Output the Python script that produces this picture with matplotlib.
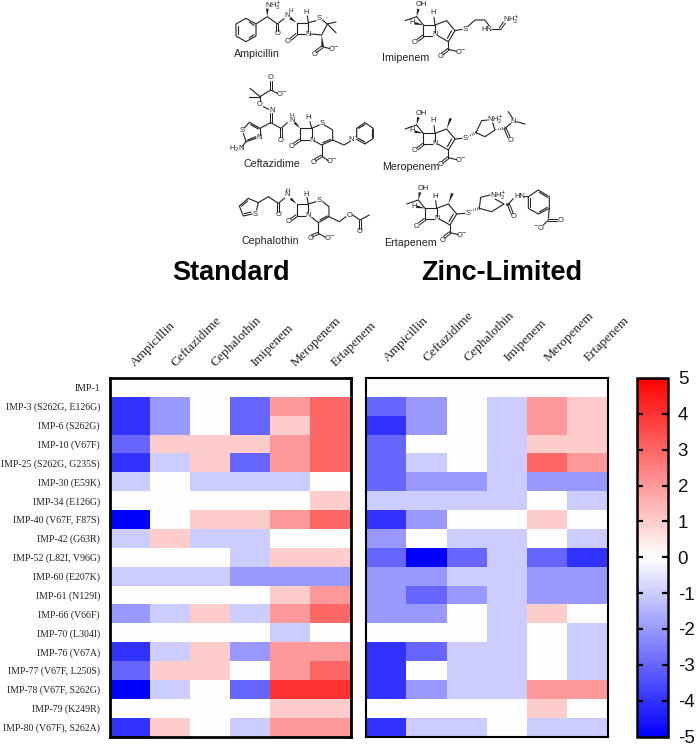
import numpy as np
import matplotlib
matplotlib.use("Agg")
import matplotlib.pyplot as plt
from matplotlib.patches import Polygon

drugs = ["Ampicillin", "Ceftazidime", "Cephalothin", "Imipenem", "Meropenem", "Ertapenem"]
variants = ["IMP-1", "IMP-3 (S262G, E126G)", "IMP-6 (S262G)", "IMP-10 (V67F)", "IMP-25 (S262G, G235S)",
            "IMP-30 (E59K)", "IMP-34 (E126G)", "IMP-40 (V67F, F87S)", "IMP-42 (G63R)", "IMP-52 (L82I, V96G)",
            "IMP-60 (E207K)", "IMP-61 (N129I)", "IMP-66 (V66F)", "IMP-70 (L304I)", "IMP-76 (V67A)",
            "IMP-77 (V67F, L250S)", "IMP-78 (V67F, S262G)", "IMP-79 (K249R)", "IMP-80 (V67F), S262A)"]
standard = [[0, 0, 0, 0, 0, 0],
            [-4, -2, 0, -3, 2, 3],
            [-4, -2, 0, -3, 1, 3],
            [-3, 1, 1, 1, 2, 3],
            [-4, -1, 1, -3, 2, 3],
            [-1, 0, -1, -1, -1, 0],
            [0, 0, 0, 0, 0, 1],
            [-5, 0, 1, 1, 2, 3],
            [-1, 1, -1, -1, 0, 0],
            [0, 0, 0, -1, 1, 1],
            [-1, -1, -1, -2, -2, -2],
            [0, 0, 0, 0, 1, 2],
            [-2, -1, 1, -1, 2, 3],
            [0, 0, 0, 0, -1, 0],
            [-4, -1, 1, -2, 2, 2],
            [-3, 1, 1, 0, 2, 3],
            [-5, -1, 0, -3, 4, 4],
            [0, 0, 0, 0, 1, 1],
            [-4, 1, 0, -1, 2, 2]]
zinc = [[0, 0, 0, 0, 0, 0],
        [-3, -2, 0, -1, 2, 1],
        [-4, -2, 0, -1, 2, 1],
        [-3, 0, 0, -1, 1, 1],
        [-3, -1, 0, -1, 3, 2],
        [-3, -2, -2, -1, -2, -2],
        [-1, -1, -1, -1, 0, -1],
        [-4, -2, 0, 0, 1, 0],
        [-2, 0, -1, -1, 0, -1],
        [-3, -5, -3, -1, -3, -4],
        [-2, -2, -1, -1, -2, -2],
        [-2, -3, -2, -1, -2, -2],
        [-2, -2, 0, -1, 1, 0],
        [0, 0, 0, -1, 0, -1],
        [-4, -3, -1, -1, 0, -1],
        [-4, 0, -1, -1, 0, -1],
        [-4, -2, -1, -1, 2, 2],
        [0, 0, 0, 0, 1, 0],
        [-4, -1, -1, 0, -1, -1]]
cbar_ticks = [5, 4, 3, 2, 1, 0, -1, -2, -3, -4, -5]
panel_titles = ["Standard", "Zinc-Limited"]

W, H = 696, 745
SERIF = "Liberation Serif"
SANS = "Liberation Sans"
fig = plt.figure(figsize=(W / 100, H / 100), dpi=100)


def add_ax(x0, y0, x1, y1):
    return fig.add_axes([x0 / W, 1 - y1 / H, (x1 - x0) / W, (y1 - y0) / H])


def heat(ax, values, lw, show_rows, label_shift, label_rise):
    arr = np.array(values)
    mesh = ax.pcolormesh(np.arange(arr.shape[1] + 1), np.arange(arr.shape[0] + 1), arr,
                         cmap="bwr", vmin=-5, vmax=5, linewidth=0, rasterized=True)
    ax.invert_yaxis()
    ax.tick_params(length=0, pad=7.2)
    ax.set_xticks([])
    for i, d in enumerate(drugs):
        ax.annotate(d, xy=(i + 0.5, 1), xycoords=("data", "axes fraction"),
                    xytext=(label_shift, label_rise), textcoords="offset pixels",
                    rotation=45, ha="left", va="baseline", rotation_mode="anchor",
                    family=SERIF, fontsize=9.6, color="#222222")
    if show_rows:
        ax.set_yticks(np.arange(len(variants)) + 0.5)
        ax.set_yticklabels(variants, family=SERIF, fontsize=7.15, color="#222222")
    else:
        ax.set_yticks([])
    for s in ax.spines.values():
        s.set_linewidth(lw)
    return mesh


ax1 = add_ax(110, 378, 350.5, 736.5)
mesh = heat(ax1, standard, 2.0, True, 5, 11)
ax2 = add_ax(366, 378, 607.5, 736.5)
heat(ax2, zinc, 1.5, False, 1.5, 16)

cax = add_ax(637, 378, 668, 736.5)
cb = fig.colorbar(mesh, cax=cax)
cb.set_ticks(cbar_ticks)
cb.set_ticklabels([str(t) for t in cbar_ticks], family=SANS, fontsize=13.5, color="#111111")
cb.solids.set_rasterized(True)
cb.outline.set_linewidth(1.8)
cax.tick_params(axis="y", which="major", direction="in", length=4, width=1.6, left=True, right=True, pad=7)
for t in cax.yaxis.get_major_ticks():
    if t.get_loc() in (5, -5):
        t.tick1line.set_visible(False)
        t.tick2line.set_visible(False)

# Overlay for headings and the chemical structure drawings (pixel space of the page)
ov = fig.add_axes([0, 0, 1, 1], zorder=5)
ov.set_xlim(0, W)
ov.set_ylim(H, 0)
ov.axis("off")
ov.patch.set_alpha(0)

ov.text(231, 273, panel_titles[0], family=SANS, weight="bold", fontsize=19.5, ha="center", va="center", color="black")
ov.text(502, 273, panel_titles[1], family=SANS, weight="bold", fontsize=19.5, ha="center", va="center", color="black")


def P(p):
    return 180 + p[0] / 3, p[1] / 3


LW = 0.8
INK = "#222222"


def chain(*pts):
    xy = np.array([P(p) for p in pts])
    ov.plot(xy[:, 0], xy[:, 1], color=INK, lw=LW, solid_capstyle="round", solid_joinstyle="round")


def dbl(a, b, off=1.1):
    a, b = np.array(P(a)), np.array(P(b))
    d = b - a
    n = np.array([-d[1], d[0]]) / np.hypot(*d) * off
    for s in (-1, 1):
        ov.plot([a[0] + s * n[0], b[0] + s * n[0]], [a[1] + s * n[1], b[1] + s * n[1]],
                color=INK, lw=LW * 0.9, solid_capstyle="round")


def wedge(a, b, w=1.4):
    a, b = np.array(P(a)), np.array(P(b))
    d = b - a
    n = np.array([-d[1], d[0]]) / np.hypot(*d) * w
    ov.add_patch(Polygon([a, b + n, b - n], closed=True, fc=INK, ec="none"))


def hashed(a, b, k=5, w=1.4):
    a, b = np.array(P(a)), np.array(P(b))
    d = b - a
    n = np.array([-d[1], d[0]]) / np.hypot(*d)
    for f in np.linspace(0.1, 1, k):
        c = a + d * f
        ov.plot([c[0] - n[0] * w * f, c[0] + n[0] * w * f], [c[1] - n[1] * w * f, c[1] + n[1] * w * f],
                color=INK, lw=0.5)


def atom(p, s, fs=5.4):
    x, y = P(p)
    ov.text(x, y, s, family=SANS, fontsize=fs, ha="center", va="center", color=INK)


def name(p, s):
    x, y = P(p)
    ov.text(x, y, s, family=SANS, fontsize=7.7, ha="left", va="center", color="#222222")


def carboxyl(c, o1, o2):
    dbl(c, o1)
    atom((o1[0] - 4, o1[1] + 8), "O")
    chain(c, o2)
    atom((o2[0] + 12, o2[1]), "O$^{-}$")


# Ampicillin
chain((198, 55), (228, 72), (228, 108), (198, 125), (168, 108), (168, 72), (198, 55))
chain((208, 66), (222, 76))
chain((208, 114), (222, 104))
chain((175, 78), (175, 103))
chain((228, 72), (262, 50), (292, 72), (312, 56))
wedge((262, 50), (262, 26))
atom((280, 17), "NH$_3^{+}$")
dbl((292, 72), (292, 92))
atom((292, 100), "O")
atom((322, 46), "N")
atom((332, 30), "H", 4.6)
wedge((350, 68), (330, 54))
chain((350, 68), (385, 68), (385, 92))
chain((350, 68), (350, 103), (375, 103))
dbl((350, 103), (332, 118))
atom((323, 124), "O")
atom((385, 102), "N")
atom((378, 37), "H")
chain((385, 68), (382, 48))
chain((385, 68), (408, 62))
atom((417, 57), "S")
chain((427, 60), (442, 72), (425, 105), (394, 102))
chain((442, 72), (468, 66))
chain((442, 72), (468, 98))
wedge((425, 105), (428, 140))
carboxyl((428, 140), (408, 155), (450, 146))
name((163, 163), drugs[0])

# Ceftazidime
dbl((272, 242), (272, 270))
atom((272, 232), "O")
chain((210, 265), (240, 290), (272, 270), (292, 280))
atom((305, 282), "O$^{-}$")
chain((208, 290), (240, 290), (240, 304))
atom((240, 313), "O")
chain((250, 320), (266, 328))
atom((276, 330), "N")
dbl((272, 340), (272, 368))
chain((240, 385), (272, 368), (303, 385), (322, 368))
dbl((303, 385), (303, 412))
atom((303, 421), "O")
atom((335, 346), "H", 4.6)
atom((335, 360), "N")
wedge((360, 385), (344, 368))
chain((360, 385), (395, 385), (395, 410))
chain((360, 385), (360, 420), (386, 420))
dbl((360, 420), (343, 432))
atom((335, 438), "O")
atom((395, 420), "N")
atom((385, 352), "H")
chain((395, 385), (390, 365))
chain((395, 385), (418, 375))
atom((425, 370), "S")
chain((433, 375), (458, 390), (458, 420), (425, 435), (405, 424))
chain((428, 428), (452, 418))
chain((425, 435), (425, 468))
carboxyl((425, 468), (405, 480), (445, 482))
chain((458, 420), (492, 435), (511, 424))
atom((521, 418), "N$^{+}$")
chain((530, 408), (530, 385), (555, 368), (580, 385), (580, 415), (555, 432), (530, 418))
chain((535, 385), (555, 374))
chain((575, 388), (575, 412))
chain((555, 426), (533, 414))
chain((240, 385), (208, 367), (193, 384))
chain((190, 400), (198, 425), (228, 415))
chain((240, 405), (240, 385))
chain((212, 374), (235, 387))
chain((203, 420), (228, 410))
atom((186, 392), "S")
atom((238, 412), "N")
chain((198, 425), (186, 440))
atom((170, 448), "H$_2$N")
name((192, 493), drugs[1])

# Cephalothin
chain((235, 608), (205, 595), (178, 618), (190, 648), (217, 642))
chain((235, 608), (230, 630))
chain((203, 603), (184, 619))
chain((193, 641), (213, 636))
atom((226, 642), "S")
chain((235, 608), (265, 590), (295, 610), (314, 594))
dbl((295, 610), (295, 637))
atom((295, 645), "O")
atom((322, 570), "H", 4.6)
atom((322, 584), "N")
wedge((350, 612), (332, 596))
chain((350, 612), (385, 612), (385, 637))
chain((350, 612), (350, 647), (376, 647))
dbl((350, 647), (333, 659))
atom((325, 665), "O")
atom((385, 647), "N")
atom((378, 582), "H")
chain((385, 612), (381, 592))
chain((385, 612), (408, 605))
atom((418, 603), "S")
chain((428, 605), (447, 620), (447, 650), (415, 668), (395, 652))
chain((420, 660), (442, 648))
chain((447, 650), (478, 665), (498, 650))
atom((508, 647), "O")
chain((518, 645), (540, 660), (568, 645))
dbl((540, 660), (540, 687))
atom((540, 695), "O")
chain((415, 668), (415, 700))
carboxyl((415, 700), (395, 708), (437, 712))
name((183, 722), drugs[2])


def penem(dx, dy, methyl):
    # shared carbapenem core; offsets are page-zoom shifts of the core
    def o(x, y):
        return (x + dx, y + dy)
    atom(o(725, 15), "OH")
    wedge(o(710, 50), o(715, 27))
    chain(o(710, 50), o(675, 62))
    chain(o(710, 50), o(730, 75))
    atom(o(697, 68), "H")
    wedge(o(730, 75), o(705, 70))
    chain(o(730, 75), o(765, 75), o(765, 97))
    chain(o(730, 75), o(730, 108), o(756, 108))
    dbl(o(730, 108), o(713, 121))
    atom(o(705, 128), "O")
    atom(o(765, 105), "N")
    atom(o(760, 38), "H")
    chain(o(765, 75), o(762, 52))
    chain(o(765, 75), o(800, 62), o(825, 92), o(805, 125), o(775, 108))
    chain(o(815, 92), o(802, 115))
    if methyl:
        wedge(o(800, 62), o(812, 30))
    chain(o(805, 125), o(805, 148))
    carboxyl(o(805, 148), o(787, 162), o(830, 154))


# Imipenem
penem(0, 0, False)
chain((825, 92), (846, 88))
atom((855, 88), "S")
chain((863, 80), (885, 60), (915, 60), (928, 78))
atom((920, 88), "HN")
chain((935, 88), (960, 88))
dbl((960, 86), (973, 68))
atom((995, 60), "NH$_2^{+}$")
name((605, 175), drugs[3])

# Meropenem
penem(0, 325, True)
chain((825, 417), (846, 415))
atom((855, 415), "S")
hashed((863, 410), (888, 398))
chain((888, 398), (905, 362), (922, 360))
atom((945, 360), "NH$_2^{+}$")
chain((938, 368), (945, 390), (915, 410), (888, 398))
hashed((945, 390), (975, 385))
dbl((975, 385), (987, 412))
atom((992, 420), "O")
chain((975, 385), (993, 370))
atom((1000, 364), "N")
chain((998, 355), (985, 335))
chain((1010, 365), (1035, 372))
name((605, 500), drugs[4])

# Ertapenem
penem(5, 550, True)
chain((830, 642), (855, 640))
atom((865, 640), "S")
hashed((873, 632), (898, 625))
chain((898, 625), (902, 592), (930, 585))
atom((955, 587), "NH$_2^{+}$")
chain((945, 597), (972, 612), (935, 635), (898, 625))
hashed((972, 612), (985, 612))
dbl((985, 612), (997, 642))
atom((1000, 650), "O")
chain((985, 612), (1000, 596))
atom((1018, 590), "HN")
chain((1033, 590), (1045, 590), (1075, 570), (1108, 590), (1108, 625), (1075, 642), (1045, 625), (1045, 590))
chain((1078, 577), (1102, 592))
chain((1102, 622), (1078, 636))
chain((1051, 620), (1051, 595))
chain((1108, 625), (1105, 655))
dbl((1105, 660), (1132, 660))
atom((1142, 660), "O")
chain((1105, 660), (1090, 675))
atom((1078, 682), "$^{-}$O")
name((612, 728), drugs[5])

fig.savefig("out.png", dpi=100)
